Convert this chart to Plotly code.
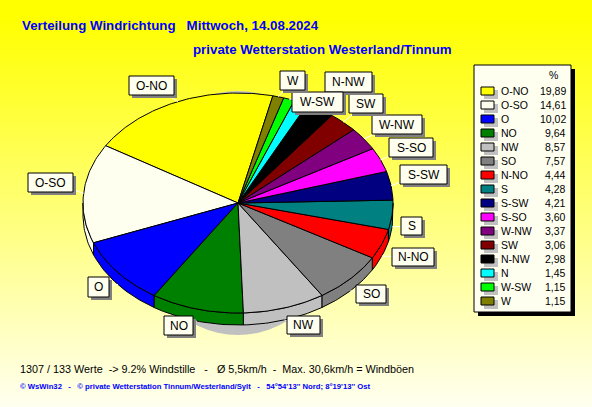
import math
import plotly.graph_objects as go

# ---------- data ----------
directions = ["O-NO", "O-SO", "O", "NO", "NW", "SO", "N-NO", "S", "S-SW", "S-SO", "W-NW", "SW", "N-NW", "N", "W-SW", "W"]
percent = [19.89, 14.61, 10.02, 9.64, 8.57, 7.57, 4.44, 4.28, 4.21, 3.60, 3.37, 3.06, 2.98, 1.45, 1.15, 1.15]
percent_labels = ["19,89", "14,61", "10,02", "9,64", "8,57", "7,57", "4,44", "4,28", "4,21", "3,60", "3,37", "3,06", "2,98", "1,45", "1,15", "1,15"]
colors = ["#FFFF00", "#FFFFF0", "#0000FF", "#008000", "#C0C0C0", "#808080", "#FF0000", "#008080", "#000080", "#FF00FF", "#800080", "#800000", "#000000", "#00FFFF", "#00FF00", "#808000"]

title_1 = "Verteilung Windrichtung\u00a0\u00a0\u00a0Mittwoch, 14.08.2024"
title_2 = "private Wetterstation Westerland/Tinnum"
stats = "1307 / 133 Werte\u00a0\u00a0-> 9.2% Windstille\u00a0\u00a0\u00a0-\u00a0\u00a0\u00a0Ø 5,5km/h\u00a0\u00a0-\u00a0\u00a0Max. 30,6km/h = Windböen"
footer = "© WsWin32\u00a0\u00a0\u00a0-\u00a0\u00a0\u00a0© private Wetterstation Tinnum/Westerland/Sylt\u00a0\u00a0\u00a0-\u00a0\u00a0\u00a054°54'13'' Nord; 8°19'13'' Ost"

# label boxes: x0, x1, y0, y1 in the page's pixel space, same order as directions ("N" has no box)
label_boxes = [(129, 174, 76, 95), (28, 73, 173, 192), (88, 109, 277, 297), (164, 193, 316, 335),
               (287, 320, 316, 334), (356, 386, 285, 303), (392, 434, 248, 266), (401, 422, 217, 235),
               (400, 447, 165, 184), (389, 433, 138, 157), (372, 422, 115, 134), (349, 383, 94, 113),
               (325, 372, 72, 92), None, (292, 343, 92, 112), (280, 305, 71, 90)]

# ---------- geometry ----------
CX, CY, RX, RY, DEPTH = 238, 203, 155, 110, 12
START = 77.0
FONT = "Liberation Sans"


def pt(deg, dy=0):
    t = math.radians(deg)
    return CX + RX * math.cos(t), CY - RY * math.sin(t) + dy


total = sum(percent)
spans = []
a = START
for v in percent:
    b = a + v / total * 360
    spans.append((a, b))
    a = b

fig = go.Figure()

# background gradient and pie shadow
shapes = []
for y in range(0, 408, 2):
    f = y / 407
    blue = int(round(max(0, f - 0.04) / 0.96 * 240))
    shapes.append(dict(type="rect", xref="x", yref="y", x0=0, x1=592, y0=y, y1=y + 2, layer="below",
                       line_width=0, fillcolor=f"rgb(255,255,{blue})"))
shapes.append(dict(type="circle", xref="x", yref="y", x0=CX - 105, x1=CX + 105, y0=91, y1=335, layer="below",
                   line_width=0, fillcolor="#C0C0C0"))

# side walls (front half only)
for (a, b), c in zip(spans, colors):
    lo, hi = max(a, 180), min(b, 360)
    segs = [(lo, hi)] if lo < hi else []
    if b > 540:
        segs.append((540, b))
    for lo, hi in segs:
        n = max(2, int(hi - lo) + 1)
        arc = [lo + (hi - lo) * i / (n - 1) for i in range(n)]
        pts = [pt(d) for d in arc] + [pt(d, DEPTH) for d in reversed(arc)]
        pts.append(pts[0])
        fig.add_trace(go.Scatter(x=[p[0] for p in pts], y=[p[1] for p in pts], mode="lines", fill="toself",
                                 fillcolor=c, line=dict(color="black", width=1), hoverinfo="skip", showlegend=False))

# top faces
for name, (a, b), c in zip(directions, spans, colors):
    n = max(2, int(b - a) + 1)
    arc = [a + (b - a) * i / (n - 1) for i in range(n)]
    pts = [(CX, CY)] + [pt(d) for d in arc] + [(CX, CY)]
    fig.add_trace(go.Scatter(x=[p[0] for p in pts], y=[p[1] for p in pts], mode="lines", fill="toself",
                             fillcolor=c, line=dict(color="black", width=1), name=name, hoverinfo="skip", showlegend=False))

annotations = []


def text(x, y, s, size=12, color="black", anchor="left", bold=False, family=FONT):
    annotations.append(dict(x=x, y=y, xref="x", yref="y", text=f"<b>{s}</b>" if bold else s, showarrow=False,
                            xanchor=anchor, yanchor="middle", font=dict(family=family, size=size, color=color),
                            borderpad=0, borderwidth=0))


# leader lines
for (a, b), box in zip(spans, label_boxes):
    if box is None:
        continue
    mid = (a + b) / 2
    px, py = pt(mid, DEPTH if math.sin(math.radians(mid)) < 0 else 0)
    bx, by = (box[0] + box[1]) / 2, (box[2] + box[3]) / 2
    shapes.append(dict(type="line", xref="x", yref="y", x0=px, y0=py, x1=bx, y1=by, line=dict(color="white", width=1)))

# label boxes
for name, box in zip(directions, label_boxes):
    if box is None:
        continue
    x0, x1, y0, y1 = box
    shapes.append(dict(type="rect", xref="x", yref="y", x0=x0 + 3, x1=x1 + 3, y0=y0 + 3, y1=y1 + 3,
                       line_width=0, fillcolor="#808080"))
    shapes.append(dict(type="rect", xref="x", yref="y", x0=x0, x1=x1, y0=y0, y1=y1,
                       line=dict(color="black", width=1), fillcolor="#FFFFF0"))
    text((x0 + x1) / 2, (y0 + y1) / 2, name, size=12, anchor="center")

# legend panel
shapes.append(dict(type="rect", xref="x", yref="y", x0=478, x1=575, y0=69, y1=316, line_width=0, fillcolor="black"))
shapes.append(dict(type="rect", xref="x", yref="y", x0=474, x1=571, y0=65, y1=312,
                   line=dict(color="black", width=1), fillcolor="#FFFFF0"))
text(553, 75, "%", size=10.5, anchor="center")
for i, (name, lab, c) in enumerate(zip(directions, percent_labels, colors)):
    yc = 91 + 14 * i
    shapes.append(dict(type="rect", xref="x", yref="y", x0=484, x1=498, y0=yc - 1, y1=yc + 8, line_width=0, fillcolor="#C0C0C0"))
    shapes.append(dict(type="rect", xref="x", yref="y", x0=481, x1=494, y0=yc - 4, y1=yc + 4,
                       line=dict(color="black", width=1), fillcolor=c))
    text(501, yc, name, size=10.5)
    text(566, yc, lab, size=10.5, anchor="right")

# titles and footers
text(22, 25, title_1, size=13.3, color="#0000FF", bold=True)
text(193, 49, title_2, size=13.3, color="#0000FF", bold=True)
text(20, 369, stats, size=10.8)
text(20, 386, footer, size=7.7, color="#0000FF", bold=True)

fig.update_layout(width=592, height=407, autosize=False, margin=dict(l=0, r=0, t=0, b=0),
                  paper_bgcolor="#FFFFF0", plot_bgcolor="rgba(0,0,0,0)", showlegend=False,
                  xaxis=dict(range=[0, 592], visible=False, fixedrange=True),
                  yaxis=dict(range=[407, 0], visible=False, fixedrange=True),
                  shapes=shapes, annotations=annotations)
fig.write_html("out.html", config={"displayModeBar": False, "staticPlot": True},
               post_script="document.body.style.margin='0';document.body.style.overflow='hidden';")
